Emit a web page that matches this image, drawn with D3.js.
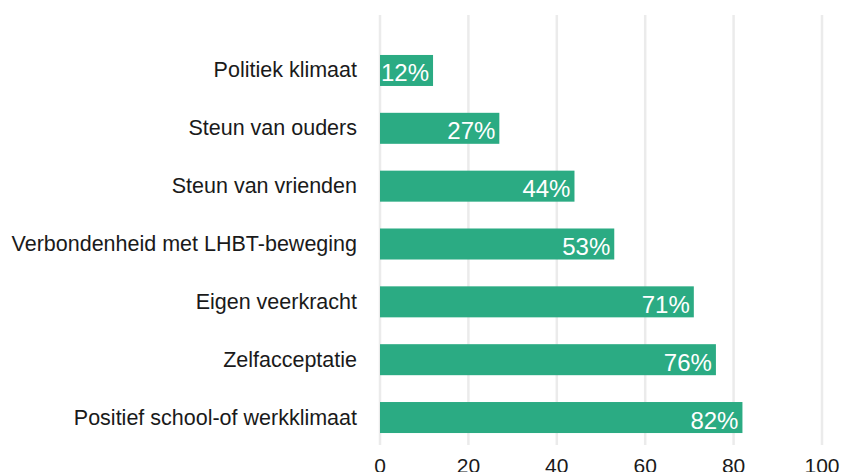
<!DOCTYPE html>
<html lang="en">
<head>
<meta charset="UTF-8">
<title>bars</title>
<style>
  body { margin: 0; background: #fff; }
  text { font-family: "Liberation Sans", Arial, sans-serif; }
</style>
</head>
<body>
<script src="https://d3js.org/d3.v7.min.js"></script>
<script>
var width = 854;
var height = 472;

var categories = ["Politiek klimaat", "Steun van ouders", "Steun van vrienden",
  "Verbondenheid met LHBT-beweging", "Eigen veerkracht", "Zelfacceptatie",
  "Positief school-of werkklimaat"];
var values = [12, 27, 44, 53, 71, 76, 82];
var ticks = [0, 20, 40, 60, 80, 100];

var svg = d3.select("body").append("svg")
  .attr("width", width)
  .attr("height", height);

var x = d3.scaleLinear().domain([0, 100]).range([380, 822]);
var y = d3.scaleBand().domain(categories)
  .range([43.4, 444.6])
  .paddingInner(0.464)
  .paddingOuter(0.2);

// gridlines
svg.append("g").selectAll("line")
  .data(ticks)
  .enter().append("line")
  .attr("x1", d => x(d)).attr("x2", d => x(d))
  .attr("y1", 15).attr("y2", 445)
  .attr("stroke", "#ebebeb")
  .attr("stroke-width", 2.5);

// tick labels (cut at the bottom edge, like the original)
svg.append("g").selectAll("text")
  .data(ticks)
  .enter().append("text")
  .attr("x", d => x(d))
  .attr("y", 473)
  .attr("text-anchor", "middle")
  .attr("font-size", 21)
  .attr("fill", "#1a1a1a")
  .text(d => d);

// bars
svg.append("g").selectAll("rect")
  .data(values)
  .enter().append("rect")
  .attr("x", x(0))
  .attr("y", (d, i) => y(categories[i]))
  .attr("width", d => x(d) - x(0))
  .attr("height", y.bandwidth())
  .attr("fill", "#2bab83");

// value labels
svg.append("g").selectAll("text")
  .data(values)
  .enter().append("text")
  .attr("x", d => x(d) - 4)
  .attr("y", (d, i) => y(categories[i]) + y.bandwidth() / 2 + 11)
  .attr("text-anchor", "end")
  .attr("font-size", 24)
  .attr("fill", "#fff")
  .text(d => d + "%");

// category labels
svg.append("g").selectAll("text")
  .data(categories)
  .enter().append("text")
  .attr("x", 357)
  .attr("y", d => y(d) + y.bandwidth() / 2 + 7)
  .attr("text-anchor", "end")
  .attr("font-size", 21.5)
  .attr("fill", "#1a1a1a")
  .text(d => d);
</script>
</body>
</html>
